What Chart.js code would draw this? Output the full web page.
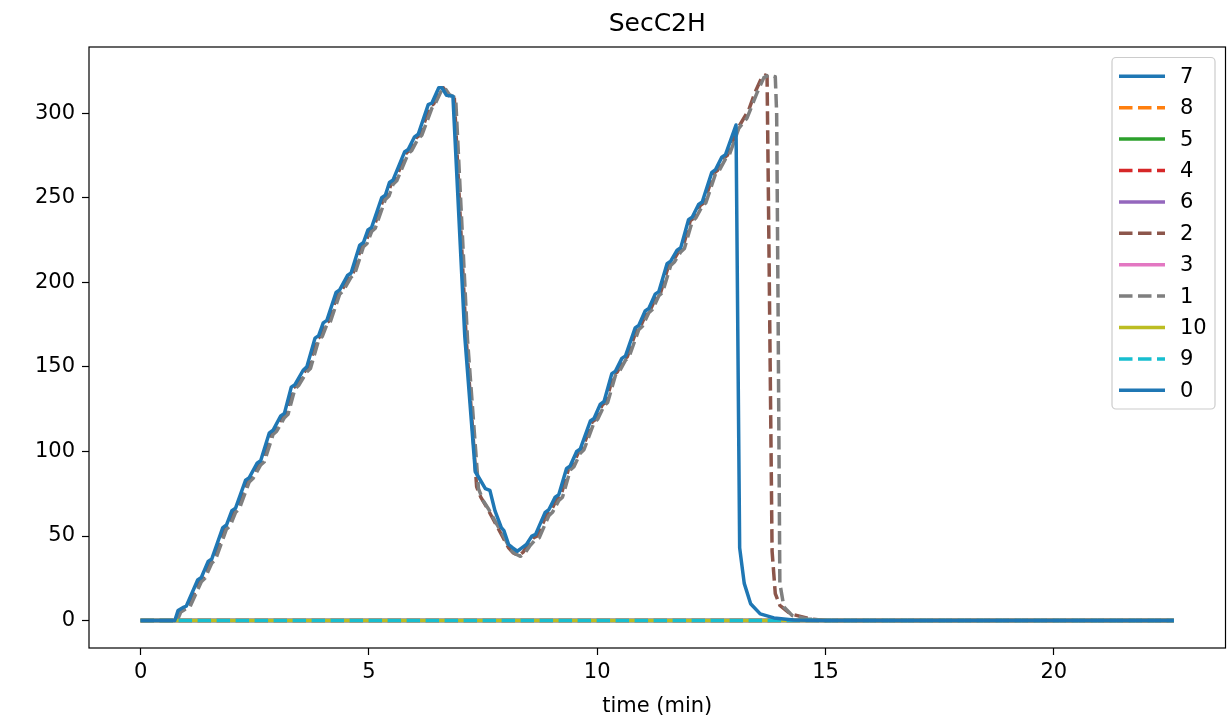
<!DOCTYPE html>
<html>
<head>
<meta charset="utf-8">
<title>SecC2H</title>
<script src="https://cdn.jsdelivr.net/npm/chart.js@4.4.1/dist/chart.umd.min.js"></script>
<style>
  html, body { margin: 0; padding: 0; background: #fff; }
  #wrap { position: relative; width: 1227px; height: 725px; }
</style>
</head>
<body>
<div id="wrap"><canvas id="chart" width="1227" height="725"></canvas></div>
<script>
const chartTitle = "SecC2H";
const xLabel = "time (min)";
const xTicks = [0, 5, 10, 15, 20];
const yTicks = [0, 50, 100, 150, 200, 250, 300];

// legend order, as in the picture
const seriesNames = ["7", "8", "5", "4", "6", "2", "3", "1", "10", "9", "0"];
const seriesColors = ["#1f77b4", "#ff7f0e", "#2ca02c", "#d62728", "#9467bd", "#8c564b",
                      "#e377c2", "#7f7f7f", "#bcbd22", "#17becf", "#1f77b4"];
const seriesDashed = [false, true, false, true, false, true, false, true, false, true, false];

// channels that stay at zero the whole run
const flat = [[0, 0], [22.63, 0]];

// channel 0 (blue, on top)
const run0 = [[0,0],[0.75,0],[0.82,6],[0.95,8],[1.0,8.5],[1.25,24],[1.33,25.5],[1.48,35],[1.56,36.5],
  [1.8,55],[1.88,56.5],[2.0,65],[2.08,66.5],[2.3,83],[2.38,84.5],[2.55,93],[2.63,94.5],[2.82,111],
  [2.9,112.5],[3.07,121],[3.15,122.5],[3.3,138],[3.38,139.5],[3.56,148],[3.64,150],[3.82,167],
  [3.9,168.5],[4.0,176],[4.08,177.5],[4.28,194],[4.36,195.5],[4.53,204],[4.61,205.5],[4.8,222],
  [4.88,223.5],[4.98,231],[5.06,232.5],[5.28,250],[5.36,251.5],[5.45,259],[5.53,260.5],[5.78,277],
  [5.86,278.5],[6.0,286],[6.08,287.5],[6.3,305],[6.38,306],[6.53,315],[6.6,315],[6.7,310.5],
  [6.84,310],[7.1,168],[7.33,88],[7.42,84],[7.55,78],[7.65,77],[7.76,65],[7.9,55],[7.96,53],
  [8.06,45],[8.15,43],[8.25,41],[8.35,43],[8.45,45],[8.57,50],[8.65,51],[8.86,64],[8.94,65.5],
  [9.08,73],[9.16,74.5],[9.33,90],[9.41,91.5],[9.55,100],[9.63,101.5],[9.85,118],[9.93,119.5],
  [10.07,128],[10.15,129.5],[10.32,146],[10.4,147.5],[10.54,155],[10.62,156.5],[10.83,173],
  [10.91,174.5],[11.05,183],[11.13,184.5],[11.27,193],[11.35,194.5],[11.53,211],[11.61,212.5],
  [11.75,219],[11.83,220.5],[12.0,237],[12.08,238.5],[12.22,246],[12.3,247.5],[12.51,265],
  [12.59,266.5],[12.73,274],[12.81,275.5],[13.04,293],[13.12,43],[13.22,22],[13.36,10],[13.57,4],
  [13.87,1.6],[14.3,0.4],[15,0],[22.63,0]];

// channel 1 (grey dashed)
const run1 = [[0,0],[0.8,0],[0.88,5],[1.02,7.5],[1.08,8],[1.33,23],[1.41,25],[1.56,34],[1.64,36],
  [1.88,54],[1.96,56],[2.08,64],[2.16,66],[2.38,82],[2.46,84],[2.63,92],[2.71,94],[2.9,110],
  [2.98,112],[3.15,120],[3.23,122],[3.38,137],[3.46,139],[3.64,147],[3.72,149],[3.9,166],
  [3.98,168],[4.08,175],[4.16,177],[4.36,193],[4.44,195],[4.61,203],[4.69,205],[4.88,221],
  [4.96,223],[5.06,230],[5.14,232],[5.36,249],[5.44,251],[5.53,258],[5.61,260],[5.86,276],
  [5.94,278],[6.08,285],[6.16,287],[6.38,303],[6.46,306],[6.6,314],[6.66,315],[6.76,311],
  [6.9,309],[7.16,166],[7.4,78],[7.5,71],[7.62,66],[7.8,57],[7.95,50],[8.1,42],[8.2,39.5],
  [8.32,38],[8.42,40],[8.52,44],[8.65,48],[8.73,49],[8.94,62],[9.02,64],[9.16,71],[9.24,73],
  [9.41,89],[9.49,91],[9.63,99],[9.71,101],[9.93,117],[10.01,119],[10.15,127],[10.23,129],
  [10.4,145],[10.48,147],[10.62,154],[10.7,156],[10.91,172],[10.99,174],[11.13,182],[11.21,184],
  [11.35,192],[11.43,194],[11.61,210],[11.69,212],[11.83,218],[11.91,220],[12.08,236],[12.16,238],
  [12.3,245],[12.38,247],[12.59,264],[12.67,266],[12.81,273],[12.89,275],[13.1,291],[13.28,297],
  [13.5,312],[13.65,321],[13.76,322.5],[13.9,321.5],[13.93,300],[13.96,189],[14.0,22],[14.09,8],
  [14.27,3],[14.6,1],[15,0],[22.63,0]];

// channel 2 (brown dashed)
const run2 = [[0,0],[0.78,0],[0.86,5],[0.99,7.5],[1.04,8],[1.29,23.5],[1.37,25],[1.52,34.5],[1.6,36],
  [1.84,54.5],[1.92,56],[2.04,64.5],[2.12,66],[2.34,82.5],[2.42,84],[2.59,92.5],[2.67,94],
  [2.86,110.5],[2.94,112],[3.11,120.5],[3.19,122],[3.34,137.5],[3.42,139],[3.6,147.5],[3.68,149.5],
  [3.86,166.5],[3.94,168],[4.04,175.5],[4.12,177],[4.32,193.5],[4.4,195],[4.57,203.5],[4.65,205],
  [4.84,221.5],[4.92,223],[5.02,230.5],[5.1,232],[5.32,249.5],[5.4,251],[5.49,258.5],[5.57,260],
  [5.82,276.5],[5.9,278],[6.04,285.5],[6.12,287],[6.34,304],[6.42,305.5],[6.57,314.5],[6.63,315],
  [6.73,310.5],[6.87,309.5],[7.13,167],[7.36,79],[7.45,73],[7.58,67],[7.76,58],[7.92,50],[8.06,43],
  [8.16,40],[8.28,38.5],[8.38,40.5],[8.48,44.5],[8.61,49],[8.69,50],[8.9,63],[8.98,64.5],[9.12,72],
  [9.2,73.5],[9.37,89.5],[9.45,91],[9.59,99.5],[9.67,101],[9.89,117.5],[9.97,119],[10.11,127.5],
  [10.19,129],[10.36,145.5],[10.44,147],[10.58,154.5],[10.66,156],[10.87,172.5],[10.95,174],
  [11.09,182.5],[11.17,184],[11.31,192.5],[11.39,194],[11.57,210.5],[11.65,212],[11.79,218.5],
  [11.87,220],[12.04,236.5],[12.12,238],[12.26,245.5],[12.34,247],[12.55,264.5],[12.63,266],
  [12.77,273.5],[12.85,275],[13.08,291],[13.32,302],[13.46,312.5],[13.61,321.5],[13.68,322.5],
  [13.72,322],[13.75,250],[13.8,120],[13.83,41],[13.9,16],[14.0,9],[14.23,4],[14.67,1],[15,0],
  [22.63,0]];

const seriesData = [flat, flat, flat, flat, flat, run2, flat, run1, flat, flat, run0];

const FONT = "DejaVu Sans";

// top/right spines + matplotlib style legend box
const framePlugin = {
  id: "frame",
  afterDatasetsDraw(chart) {
    const {ctx, chartArea: a} = chart;
    ctx.save();
    ctx.strokeStyle = "#000";
    ctx.lineWidth = 1.2;
    ctx.strokeRect(a.left, a.top, a.right - a.left, a.bottom - a.top);
    ctx.restore();
  },
  afterDraw(chart) {
    const ctx = chart.ctx;
    const a = chart.chartArea;
    const boxR = a.right - 10.5, boxT = a.top + 10.5;
    const boxL = 1112, boxB = 409;
    ctx.save();
    ctx.beginPath();
    ctx.roundRect(boxL, boxT, boxR - boxL, boxB - boxT, 4);
    ctx.fillStyle = "rgba(255,255,255,0.8)";
    ctx.fill();
    ctx.strokeStyle = "#cccccc";
    ctx.lineWidth = 1.2;
    ctx.stroke();
    chart.data.datasets.forEach((ds, i) => {
      const y = boxT + 18.8 + i * 31.4;
      ctx.beginPath();
      ctx.setLineDash(ds.borderDash);
      ctx.strokeStyle = ds.borderColor;
      ctx.lineWidth = ds.borderWidth;
      ctx.moveTo(boxL + 7, y);
      ctx.lineTo(boxL + 53, y);
      ctx.stroke();
      ctx.setLineDash([]);
      ctx.fillStyle = "#000";
      ctx.font = "21px '" + FONT + "'";
      ctx.textBaseline = "middle";
      ctx.textAlign = "left";
      ctx.fillText(ds.label, boxL + 68, y + 1);
    });
    ctx.restore();
  }
};

const tickFont = {family: FONT, size: 21};

new Chart(document.getElementById("chart"), {
  type: "line",
  data: {
    datasets: seriesNames.map((name, i) => ({
      label: name,
      data: seriesData[i].map(p => ({x: p[0], y: p[1]})),
      borderColor: seriesColors[i],
      backgroundColor: seriesColors[i],
      borderWidth: 3.5,
      borderDash: seriesDashed[i] ? [13.5, 5.5] : [],
      borderJoinStyle: "round",
      pointRadius: 0,
      tension: 0,
      fill: false,
      order: seriesNames.length - 1 - i
    }))
  },
  options: {
    responsive: false,
    animation: false,
    devicePixelRatio: 1,
    layout: {padding: {left: 0, right: 1.5, top: 0, bottom: 0}},
    plugins: {
      legend: {display: false},
      tooltip: {enabled: false},
      title: {
        display: true,
        fullSize: false,
        text: chartTitle,
        color: "#000",
        font: {family: FONT, size: 25, weight: "normal"},
        padding: {top: 9, bottom: 8}
      }
    },
    scales: {
      x: {
        type: "linear",
        min: -1.13,
        max: 23.76,
        afterBuildTicks: s => { s.ticks = xTicks.map(v => ({value: v})); },
        afterFit: s => { s.height = 77; },
        grid: {drawOnChartArea: false, drawTicks: true, tickLength: 7, tickColor: "#000", tickWidth: 1.2},
        border: {display: false},
        ticks: {color: "#000", font: tickFont, padding: 5, maxRotation: 0, autoSkip: false},
        title: {display: true, text: xLabel, color: "#000", font: tickFont, padding: {top: 0, bottom: 6}}
      },
      y: {
        type: "linear",
        min: -16.2,
        max: 339.1,
        afterBuildTicks: s => { s.ticks = yTicks.map(v => ({value: v})); },
        afterFit: s => { s.width = 89; },
        grid: {drawOnChartArea: false, drawTicks: true, tickLength: 7, tickColor: "#000", tickWidth: 1.2},
        border: {display: false},
        ticks: {color: "#000", font: tickFont, padding: 7, autoSkip: false}
      }
    }
  },
  plugins: [framePlugin]
});
</script>
</body>
</html>
